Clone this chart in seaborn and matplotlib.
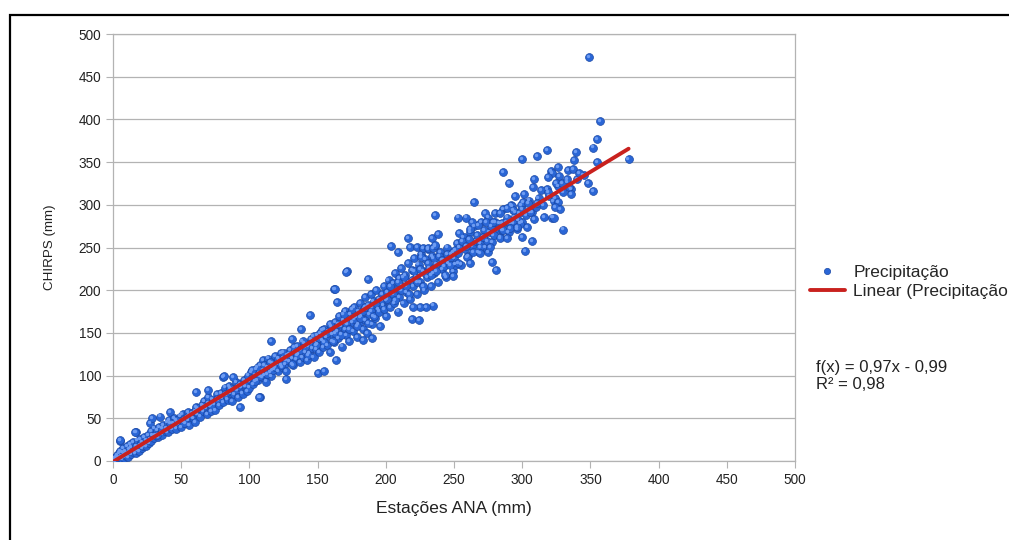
import numpy as np
import pandas as pd
import matplotlib
matplotlib.use("Agg")
import matplotlib.pyplot as plt
import matplotlib.transforms as mtransforms
from matplotlib.lines import Line2D
from matplotlib.patches import Rectangle
import seaborn as sns

# --------------------------
# Data (Estações ANA vs CHIRPS, mm)
# --------------------------
band_low_x = [0.5, 1, 1.5, 2, 2.5, 3, 3, 4, 4.5, 5, 5, 6, 6.5, 7, 7.5, 8, 8, 9, 9.5, 10,
              10, 11, 11.5, 12, 12.5, 13, 13.5, 14, 15, 15, 16, 16.5, 17, 17.5, 18, 18.5,
              19, 20, 20, 21, 21.5, 22, 23, 23, 24, 24.5, 25, 26, 26.5, 27, 28, 28, 29,
              30, 30, 5.4, 16.9, 27, 28.4, 34.5, 41.8, 16.1, 5.1]
band_low_y = [1, 3, 0, 5, 2, 1, 7, 4, 9, 3, 12, 6, 2, 10, 15, 4, 8, 12, 6, 18,
              9, 5, 14, 10, 20, 8, 16, 12, 11, 22, 14, 9, 18, 13, 24, 16,
              12, 19, 26, 15, 22, 18, 28, 20, 17, 25, 22, 30, 21, 26, 24, 35, 30,
              27, 38, 24, 34, 44.5, 50, 52, 57.7, 34.3, 24.6]

band_mid_x = [31, 32, 33, 34, 35, 36, 37, 38, 39, 40, 40, 41, 42, 43, 44, 45, 45, 46, 47,
              48, 49, 50, 50, 51, 52, 53, 54, 55, 55, 56, 57, 58, 59, 60, 60,
              61, 62, 63, 64, 65, 66, 67, 68, 69, 70, 70, 71, 72, 73, 74, 75, 76, 77,
              78, 79, 80, 81, 82, 83, 84, 85, 86, 87, 88, 89, 90, 91, 92, 93, 94, 95,
              96, 97, 98, 99, 100, 100, 61, 70, 81, 88, 93, 107.8, 81.4, 107,
              32, 36, 42, 46, 52, 56, 62, 66, 72, 76, 82, 86, 92, 96]
band_mid_y = [30, 36, 28, 40, 33, 31, 42, 35, 38, 34, 45, 48, 39, 37, 44, 41, 50, 38, 46,
              43, 52, 47, 40, 55, 49, 44, 51, 48, 57, 42, 53, 56, 50, 58, 46,
              63, 55, 60, 52, 66, 58, 70, 62, 55, 68, 75, 64, 58, 72, 67, 60, 78, 71,
              66, 80, 74, 69, 86, 77, 72, 88, 80, 70, 84, 78, 92, 83, 75, 90, 86, 79,
              95, 88, 82, 100, 93, 86, 81, 83, 98.7, 98.7, 63.6, 75, 99.5, 75.3,
              30, 38, 44, 48, 45, 54, 62, 64, 66, 73, 78, 85, 88, 90]

band_high_x = [101, 102, 103, 104, 105, 106, 107, 108, 109, 110, 110, 111, 112, 113, 114,
               115, 116, 117, 118, 119, 120, 121, 122, 123, 124, 125, 126, 127, 128, 129,
               130, 131, 132, 133, 134, 135, 136, 137, 138, 139, 140, 141, 142, 143, 144,
               145, 146, 147, 148, 149, 150, 150,
               151, 152, 153, 154, 155, 156, 157, 158, 159, 160, 161, 162, 163, 164, 165,
               166, 167, 168, 169, 170, 170, 171, 172, 173, 174, 175, 176, 177, 178, 179,
               180, 180, 181, 182, 183, 184, 185, 185, 186, 187, 188, 189, 190, 190, 191,
               192, 193, 194, 195, 196, 197, 198, 199, 200, 200,
               102, 104, 106, 108, 111, 113, 115, 117, 119, 121, 123, 125, 127, 129, 131,
               133, 135, 137, 139, 141, 143, 145, 147, 149, 151, 153, 155, 157, 159, 161,
               163, 165, 167, 169, 171, 173, 175, 177, 179, 181, 183, 185, 187, 189, 191,
               193, 195, 197, 199]
band_high_y = [104, 97, 90, 100, 108, 95, 103, 112, 98, 106, 118, 101, 93, 110, 120,
               104, 99, 115, 108, 123, 113, 105, 118, 126, 110, 120, 113, 105, 124, 117,
               130, 121, 112, 127, 119, 135, 125, 116, 131, 122, 138, 128, 118, 134, 126,
               143, 132, 122, 140, 131, 147, 137,
               128, 150, 141, 133, 155, 145, 136, 152, 128, 158, 148, 139, 163, 152, 144,
               170, 158, 134, 165, 155, 176, 147, 160, 140, 172, 163, 152, 180, 168, 145,
               175, 160, 185, 170, 155, 178, 192, 165, 150, 183, 172, 196, 180, 160, 187,
               168, 200, 178, 190, 158, 196, 182, 205, 188, 170,
               106, 94, 110, 99, 112, 102, 116, 106, 110, 120, 112, 127, 118, 125, 114,
               133, 124, 130, 140, 133, 124, 138, 146, 136, 144, 153, 139, 150, 160, 140,
               150, 160, 148, 172, 162, 155, 178, 166, 158, 168, 176, 180, 162, 176, 170,
               185, 175, 188, 178]

band_top_x = [201, 202, 203, 204, 205, 206, 207, 208, 209, 210, 210, 211, 212, 213, 214,
              215, 216, 217, 218, 219, 220, 221, 222, 223, 224, 225, 226, 227, 228, 229,
              230, 231, 232, 233, 234, 235, 236, 237, 238, 240, 241, 242, 244, 245, 246,
              248, 249, 250,
              252, 253, 255, 257, 258, 260, 262, 263, 265, 266, 268, 270, 271, 273, 275,
              276, 278, 280, 282, 284, 286, 288, 290, 292, 294, 296, 298, 300, 300,
              303, 305, 307, 310, 312, 315, 318, 320, 323, 326, 330, 333, 336, 340, 345, 348,
              201, 203, 205, 207, 209, 211, 213, 215, 217, 219, 221, 223, 225, 227, 229,
              231, 233, 235, 237, 239, 241, 243, 245, 247, 249, 251, 254, 256, 259, 261,
              264, 267, 269, 272, 274, 277, 279, 283, 285, 289, 291, 295, 297, 299]
band_top_y = [198, 212, 180, 195, 208, 185, 220, 200, 175, 214, 192, 226, 205, 185, 218,
              198, 232, 210, 190, 224, 205, 238, 215, 195, 230, 210, 242, 222, 200, 236,
              215, 248, 226, 205, 240, 220, 252, 230, 210, 245, 225, 235, 215, 250, 232,
              242, 222, 238,
              255, 244, 230, 262, 248, 240, 268, 252, 275, 258, 245, 280, 262, 250, 285,
              268, 256, 290, 272, 262, 295, 280, 268, 300, 285, 272, 290, 295, 280,
              288, 305, 292, 298, 308, 300, 318, 310, 304, 322, 315, 326, 318, 330, 335, 325,
              190, 205, 196, 188, 210, 200, 215, 205, 195, 212, 222, 210, 225, 205, 220,
              232, 218, 238, 222, 240, 235, 228, 242, 238, 245, 230, 250, 258, 252, 260,
              245, 265, 255, 270, 258, 275, 265, 278, 270, 285, 278, 292, 282, 300]

# scattered points away from the main band
outlier_x = [349, 357, 355, 352, 354.6, 378, 352, 339.5, 338, 318, 310.6, 300, 285.7, 290.6,
             326.5, 333.8, 337, 342, 321, 322, 319, 308.7, 307.7, 327, 325, 329, 332.6,
             334.5, 313.8, 319, 336, 294.5, 301.6, 324, 326.5, 327.7, 324, 316, 321.6,
             323, 329.7, 309, 300.8, 304.5, 305.7, 310.6, 292.3, 293.5, 288.6, 283.7,
             272.7, 280, 273.5, 285, 293.5, 298.4, 303.3, 271.5, 265, 236, 252.7, 258.8,
             253.7, 216.5, 204, 209, 234, 238.5, 261.7, 267.8, 263, 217.7, 222.6, 227.5,
             231, 234.8, 236, 226, 171.8, 187, 162, 164, 144.4, 219, 224.6, 234.8, 229.5,
             225, 220, 115.8, 131, 137.6, 150.5, 155, 126.8, 163.5, 183.5, 189.6, 249.5,
             243.4, 281, 302, 307, 278, 275, 278.8, 286, 291, 296, 299.6, 269, 276.4,
             283.7, 288.6, 250.7, 259.3, 269, 253, 261.7, 247, 171, 162.8]
outlier_y = [472.7, 398, 376.7, 367, 349.8, 354, 316, 362, 352, 364, 357, 354, 338, 325,
             344, 341, 342, 337, 340, 337, 333, 330.6, 321, 334, 325, 325, 330,
             321, 317, 314.6, 312.6, 310, 312.6, 307.6, 303, 294.7, 297.8, 286, 285,
             285, 271, 283, 303.6, 301.7, 292, 301.7, 299, 294, 296, 290.7,
             290.7, 280, 280, 279, 279, 278, 274, 262.6, 303.6, 288, 285, 285,
             266.6, 260.7, 252, 245, 260.7, 265.5, 272, 276, 280, 251, 251, 249.8,
             249.8, 249, 253, 239, 222.5, 212.7, 201, 186.5, 171, 166, 165, 182, 180.7,
             180, 180.7, 140.5, 142.9, 154.6, 103.4, 105.7, 95.7, 118, 141.7, 143.7, 216.6,
             217.8, 223.6, 246, 257.6, 233, 245, 280, 270.5, 272.5, 274.4, 262.6, 251, 251,
             260.8, 260.8, 247, 239, 243, 231.5, 231.5, 229.5, 221.7, 201]

# trend line shown on the chart
slope = 0.97
intercept = -0.99
r2 = 0.98

x_ticks = [0, 50, 100, 150, 200, 250, 300, 350, 400, 450, 500]
y_ticks = [0, 50, 100, 150, 200, 250, 300, 350, 400, 450, 500]

df = pd.DataFrame({
    "ana": band_low_x + band_mid_x + band_high_x + band_top_x + outlier_x,
    "chirps": band_low_y + band_mid_y + band_high_y + band_top_y + outlier_y,
})

trend = pd.DataFrame({"ana": [0, df["ana"].max()]})
trend["chirps"] = slope * trend["ana"] + intercept

# --------------------------
# Plot
# --------------------------
sns.set_theme(style="white")
plt.rcParams["font.family"] = ["Liberation Sans", "DejaVu Sans"]

fig = plt.figure(figsize=(10.09, 5.40), dpi=100)
ax = fig.add_axes([113 / 1009, 1 - 461 / 540, (795 - 113) / 1009, (461 - 34) / 540])

sns.scatterplot(data=df, x="ana", y="chirps", ax=ax, s=32, color="#2a66d6",
                edgecolor="#1a48a6", linewidth=0.5, zorder=3, legend=False)
# small highlight for the glossy sphere look
hl = mtransforms.offset_copy(ax.transData, fig=fig, x=-0.8, y=0.8, units="points")
ax.scatter(df["ana"], df["chirps"], s=6, color="#6e9cf2", linewidths=0,
           transform=hl, zorder=4)

sns.lineplot(data=trend, x="ana", y="chirps", ax=ax, color="#c9211e",
             linewidth=2.8, zorder=5)

ax.set_xlim(0, 500)
ax.set_ylim(0, 500)
ax.set_xticks(x_ticks)
ax.set_yticks(y_ticks)
ax.tick_params(axis="both", labelsize=9.8, labelcolor="#222222", color="#b3b3b3",
               length=5, width=0.8, direction="out", left=True, bottom=True)
ax.yaxis.grid(True, color="#b3b3b3", linewidth=0.9)
ax.xaxis.grid(False)
for side in ["left", "bottom", "top", "right"]:
    ax.spines[side].set_color("#b3b3b3")
    ax.spines[side].set_linewidth(0.9)

ax.set_xlabel("Estações ANA (mm)", fontsize=12.5, color="#222222", labelpad=10)
ax.set_ylabel("CHIRPS (mm)", fontsize=9.6, color="#222222", labelpad=16)

# legend (placed to the right of the plot area)
handles = [
    Line2D([], [], marker="o", linestyle="none", markersize=4.5,
           markerfacecolor="#2a66d6", markeredgecolor="#1a48a6", markeredgewidth=0.5),
    Line2D([], [], color="#c9211e", linewidth=2.8),
]
fig.legend(handles, ["Precipitação", "Linear (Precipitação"],
           loc="upper left", bbox_to_anchor=(810 / 1009, 1 - 265 / 540),
           frameon=False, fontsize=12.5, handlelength=2.0, handletextpad=0.5,
           labelspacing=0.22, borderpad=0, borderaxespad=0)

fig.text(816 / 1009, 1 - 376 / 540,
         f"f(x) = {slope:.2f}x - {abs(intercept):.2f}\nR² = {r2:.2f}".replace(".", ","),
         fontsize=12, color="#222222", va="center", ha="left", linespacing=1.1)

# outer frame of the original screenshot
fig.patches.append(Rectangle((9.5 / 1009, -0.1), 1.2, 1 - 15 / 540 + 0.1,
                             transform=fig.transFigure, fill=False,
                             edgecolor="black", linewidth=1.6, zorder=0))

fig.savefig("out.png", dpi=100)
